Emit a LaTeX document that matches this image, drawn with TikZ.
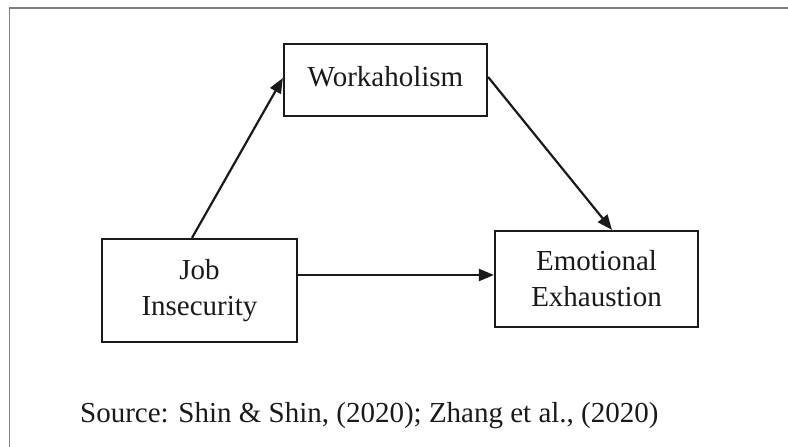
\documentclass[tikz,border=0pt]{standalone}
\usepackage{fontspec}
\setmainfont{Liberation Serif}
\usetikzlibrary{arrows.meta}
\definecolor{ink}{HTML}{1A1A1A}
\definecolor{framegray}{HTML}{808080}
\begin{document}
\begin{tikzpicture}[x=1pt,y=-1pt,
  box/.style={draw=ink,line width=2.2pt,rectangle,inner sep=0pt,align=center,
    font=\fontsize{29}{36}\selectfont,text=ink},
  link/.style={draw=ink,line width=2.2pt,-{Triangle[length=15pt,width=12pt]}},
  frameline/.style={draw=framegray,line width=1.8pt}]
\useasboundingbox (0,0) rectangle (788,447);
\coordinate (fa) at (9.5,447);
\coordinate (fb) at (9.5,8);
\coordinate (fc) at (788,8);
\draw[frameline] (fa) -- (fb) -- (fc);
\node[box,minimum width=195pt,minimum height=103pt] (job) at (199.5,290.5) {Job\\Insecurity};
\node[box,minimum width=203pt,minimum height=72pt] (work) at (385.5,80) {\raisebox{8pt}{Workaholism}};
\node[box,minimum width=203pt,minimum height=96pt] (emo) at (596.5,279) {Emotional\\Exhaustion};
\node[font=\fontsize{29}{36}\selectfont,text=ink,anchor=base west,inner sep=0pt] (src) at (80,422) {Source: Shin \& Shin, (2020); Zhang et al., (2020)};
\draw[link] ([xshift=-7.5pt]job.north) -- ([yshift=2pt]work.west);
\draw[link] ([yshift=3pt]work.east) -- ([xshift=15.5pt]emo.north);
\draw[link] ([yshift=15.5pt]job.east) -- ([yshift=15.5pt]job.east -| emo.west);
\end{tikzpicture}
\end{document}
